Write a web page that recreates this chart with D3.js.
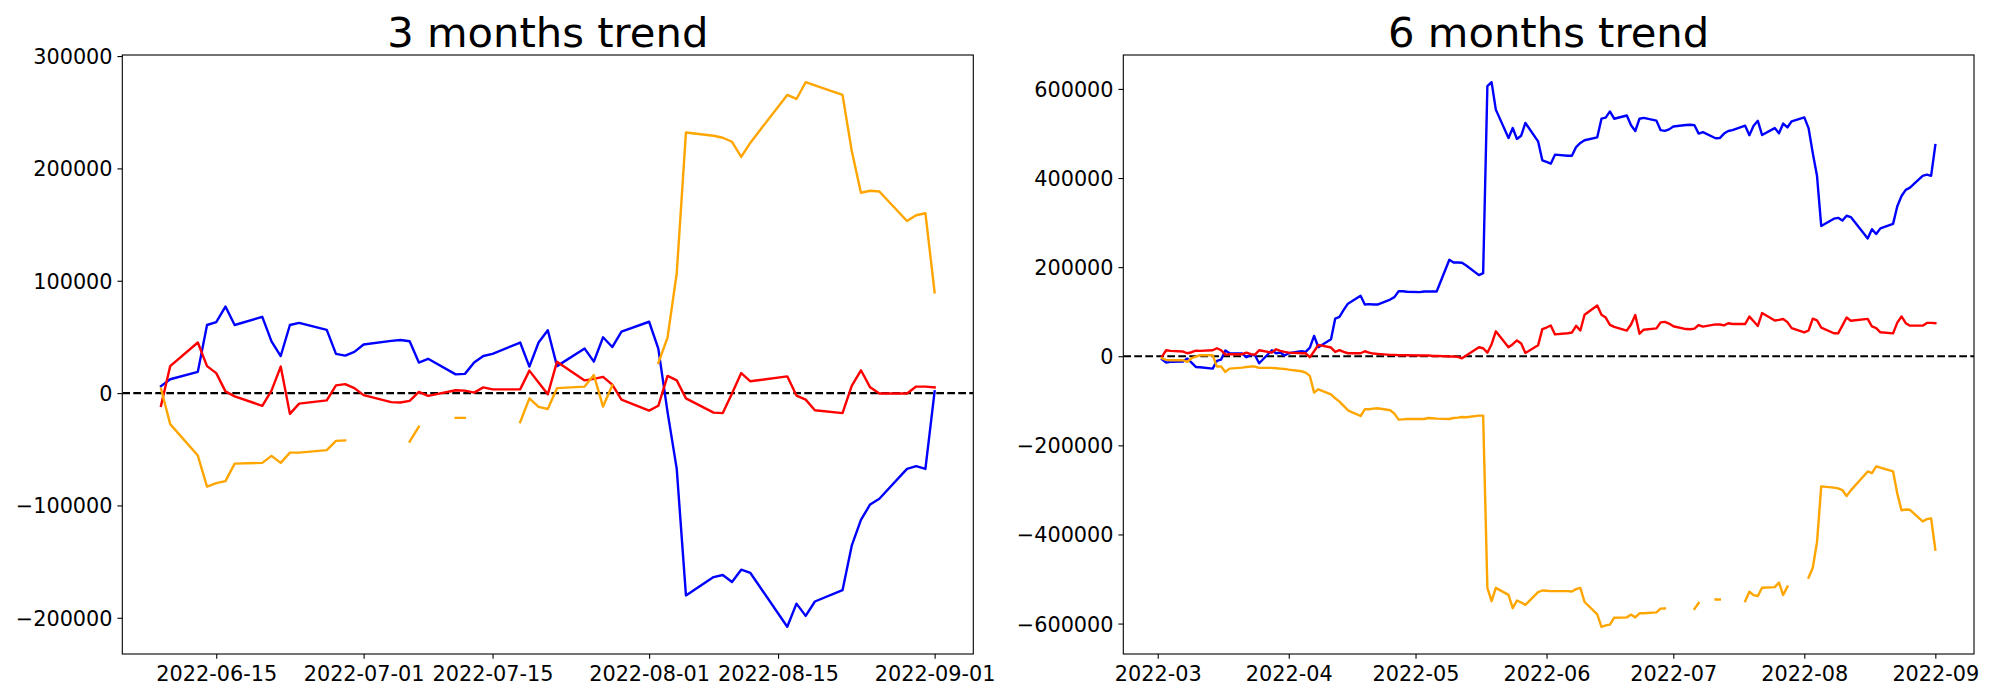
<!DOCTYPE html>
<html>
<head>
<meta charset="utf-8">
<script src="https://cdn.jsdelivr.net/npm/d3@7"></script>
<style>
  html, body { margin: 0; padding: 0; background: #ffffff; }
  svg { display: block; }
</style>
</head>
<body>
<svg id="chart" width="2000" height="700"></svg>
<script>
// ---------------- DATA ----------------
const titles = ["3 months trend", "6 months trend"];

// trading dates (2022) of the 3 months panel
const dates3m = ["06-09","06-10","06-13","06-14","06-15","06-16","06-17","06-20","06-21","06-22","06-23","06-24","06-27","06-28","06-29","06-30",
  "07-01","07-04","07-05","07-06","07-07","07-08","07-11","07-12","07-13","07-14","07-15","07-18","07-19","07-20","07-21","07-22","07-25","07-26","07-27","07-28","07-29",
  "08-01","08-02","08-03","08-04","08-05","08-08","08-09","08-10","08-11","08-12","08-16","08-17","08-18","08-19","08-22","08-23","08-24","08-25","08-26","08-29","08-30","08-31",
  "09-01"];

// earlier trading dates (2022) that only the 6 months panel shows
const datesEarly = ["03-02","03-03","03-04","03-07","03-08","03-09","03-10","03-11","03-14","03-15","03-16","03-17","03-18","03-21","03-22","03-23","03-24","03-25","03-28","03-29","03-30","03-31",
  "04-01","04-04","04-05","04-06","04-07","04-08","04-11","04-12","04-13","04-14","04-15","04-18","04-19","04-20","04-21","04-22","04-25","04-26","04-27","04-28","04-29",
  "05-02","05-03","05-04","05-05","05-06","05-09","05-10","05-11","05-12","05-13","05-16","05-17","05-18","05-19","05-20","05-23","05-24","05-25","05-26","05-27","05-30","05-31",
  "06-01","06-02","06-03","06-06","06-07","06-08"];

const blue3m = [6200,12300,18900,60600,63200,77000,60600,67900,46100,33000,60600,62500,56300,34900,33400,36700,
  43200,46500,47200,46100,27200,30500,16700,17100,27200,33000,34900,45000,23600,45000,55900,24000,39600,28000,49700,41000,54800,
  63500,39600,-16700,-67500,-180100,-163800,-161900,-168100,-157200,-160100,-208000,-187400,-198300,-185500,-175400,-135800,-112900,-99100,-94000,-67500,-65000,-67500,
  1500];

const red3m = [-11300,24000,45000,24000,17800,1500,-2900,-11300,2200,23600,-18500,-9400,-6500,6900,8000,4400,
  -1800,-8000,-8400,-6900,1100,-2500,2500,2200,400,5100,3300,3300,20000,9400,-1100,28000,11300,12700,14500,7600,-5800,
  -15600,-11300,15300,11300,-4700,-17400,-17800,-400,17800,10500,14900,-2200,-5800,-15300,-17800,6500,20300,5100,-400,-400,5800,5800,
  5100];

const orange3m = [4000,-27600,-55600,-83200,-80200,-78400,-62800,-62100,-55900,-62100,-53000,-53000,-50800,-42500,-42100,null,
  null,null,null,-43200,-29800,null,-22100,-22100,null,null,null,-25800,-4700,-12300,-14200,4400,5800,16000,-12000,6900,null,
  null,26900,49400,106700,232000,229100,227300,223700,210200,222900,265400,261800,276700,273800,265400,215700,178300,180100,179400,153200,158300,160100,
  89700];

const blue6m = [-6700,-14200,-12700,-12000,-5200,-14200,-24000,-24700,-27700,-10500,-7500,12700,6700,6000,-2200,3000,2200,-15700,13500,6700,8200,1500,
  6700,11200,9700,19500,45700,20200,38200,84600,88400,104000,118000,135600,116000,117000,116000,116000,127300,132600,146000,146000,144600,
  143800,145300,145300,145300,145300,216500,210500,210500,209700,203700,182000,186500,606000,615000,553500,489800,512300,487600,495000,523600,482400,439700,
  436000,432200,452400,450000,450000,469600,
  478700,484800,491400,533100,535700,549500,533100,540400,518600,505500,533100,535000,528800,507400,505900,509200,
  515700,519000,519700,518600,499700,503000,489200,489600,499700,505500,507400,517500,496100,517500,528400,496500,512100,500500,522200,513500,527300,
  536000,512100,455800,405000,292400,308700,310600,304400,315300,312400,264500,285100,274200,287000,297100,336700,359600,373400,378500,405000,407500,405000,
  474000];

const red6m = [-700,13500,12000,10500,6700,9000,12700,12000,13500,18000,13500,3700,4500,4500,8200,4500,3700,13500,8200,15700,12000,9700,
  8200,6700,6700,-2200,11200,25500,19500,9700,13500,9700,6700,6700,11200,8000,6000,5200,3000,3000,2200,2200,2200,
  1500,1500,1500,700,700,-700,-700,-1500,-4500,1500,20200,18000,8000,27000,56000,20000,27000,35500,28500,7300,24500,60800,
  64400,69000,49000,51700,53200,68200,
  57700,93000,114000,93000,86800,70500,66100,57700,71200,92600,50500,59600,62500,75900,77000,73400,
  67200,61000,60600,62100,70100,66500,71500,71200,69400,74100,72300,72300,89000,78400,67900,97000,80300,81700,83500,76600,63200,
  53400,57700,84300,80300,64300,51600,51200,68600,86800,79500,83900,66800,63200,53700,51200,75500,89300,74100,68600,68600,74800,74800,
  74100];

const orange6m = [-4500,-8200,-9000,-9000,-12700,-4500,-700,2200,2200,-23200,-23200,-35200,-27700,-25500,-24000,-23200,-23200,-26200,-26200,-27000,-27700,-28500,
  -30000,-33700,-36700,-44200,-81600,-74200,-85400,-94400,-101900,-111600,-121300,-134100,-119100,-119100,-117600,-116800,-121300,-128800,-142300,-141600,-140800,
  -140800,-140800,-138600,-139300,-140000,-140800,-138600,-137800,-136300,-137000,-133300,-133300,-519800,-549800,-519800,-535500,-565500,-548300,-552800,-558000,-529500,-525800,
  -526500,-527300,-527300,-527300,-528000,-522800,
  -520000,-551600,-579600,-607200,-604200,-602400,-586800,-586100,-579900,-586100,-577000,-577000,-574800,-566500,-566100,null,
  null,null,null,-567200,-553800,null,-546100,-546100,null,null,null,-549800,-528700,-536300,-538200,-519600,-518200,-508000,-536000,-517100,null,
  null,-497100,-474600,-417300,-292000,-294900,-296700,-300300,-313800,-301100,-258600,-262200,-247300,-250200,-258600,-308300,-345700,-343900,-344600,-370800,-365700,-363900,
  -434300];

const xTicks3m = ["2022-06-15","2022-07-01","2022-07-15","2022-08-01","2022-08-15","2022-09-01"];
const xTicks6m = ["2022-03","2022-04","2022-05","2022-06","2022-07","2022-08","2022-09"];
const yTicks3m = [-200000,-100000,0,100000,200000,300000];
const yTicks6m = [-600000,-400000,-200000,0,200000,400000,600000];

const seriesColors = ["blue","red","orange"];

// ---------------- DRAWING ----------------
const svg = d3.select("#chart");
svg.append("rect").attr("width",2000).attr("height",700).attr("fill","#ffffff");

const FONT = "'DejaVu Sans', 'Liberation Sans', sans-serif";
const parseDay = d3.utcParse("%Y-%m-%d");
const parseMonth = d3.utcParse("%Y-%m");

const panels = [
  { title: titles[0], dates: dates3m.map(s => parseDay("2022-" + s)), series: [blue3m, red3m, orange3m],
    xTicks: xTicks3m.map(parseDay), xFmt: d3.utcFormat("%Y-%m-%d"), yTicks: yTicks3m,
    left: 122.3, right: 973.3 },
  { title: titles[1], dates: datesEarly.concat(dates3m).map(s => parseDay("2022-" + s)), series: [blue6m, red6m, orange6m],
    xTicks: xTicks6m.map(parseMonth), xFmt: d3.utcFormat("%Y-%m"), yTicks: yTicks6m,
    left: 1123.3, right: 1974 }
];

const TOP = 55, BOTTOM = 654;
const TICK = 4.86, PAD = 4.86;
const fmtY = d3.format("d");

panels.forEach((p, i) => {
  const g = svg.append("g");
  // x scale with 5% margins (matplotlib autoscale)
  const [d0, d1] = d3.extent(p.dates);
  const span = d1 - d0;
  const x = d3.scaleUtc()
    .domain([new Date(+d0 - 0.05 * span), new Date(+d1 + 0.05 * span)])
    .range([p.left, p.right]);
  const allVals = p.series.flat().filter(v => v != null);
  const [v0, v1] = d3.extent(allVals);
  const vs = v1 - v0;
  const y = d3.scaleLinear()
    .domain([v0 - 0.05 * vs, v1 + 0.05 * vs])
    .range([BOTTOM, TOP]);

  const clipId = "clip" + i;
  g.append("clipPath").attr("id", clipId)
    .append("rect").attr("x", p.left).attr("y", TOP)
    .attr("width", p.right - p.left).attr("height", BOTTOM - TOP);

  const plot = g.append("g").attr("clip-path", `url(#${clipId})`);

  // zero reference line
  plot.append("line")
    .attr("x1", p.left).attr("x2", p.right)
    .attr("y1", y(0)).attr("y2", y(0))
    .attr("stroke", "#000").attr("stroke-width", 2.2)
    .attr("stroke-dasharray", "7.7,3.3");

  // series
  p.series.forEach((vals, k) => {
    const line = d3.line()
      .defined(d => d.v != null)
      .x(d => x(d.t))
      .y(d => y(d.v));
    const data = p.dates.map((t, j) => ({ t, v: vals[j] }));
    plot.append("path")
      .datum(data)
      .attr("d", line)
      .attr("fill", "none")
      .attr("stroke", seriesColors[k])
      .attr("stroke-width", 2.4)
      .attr("stroke-linejoin", "round")
      .attr("stroke-linecap", "square");
  });

  // x axis
  const xAxis = d3.axisBottom(x)
    .tickValues(p.xTicks)
    .tickFormat(p.xFmt)
    .tickSizeInner(TICK).tickSizeOuter(0).tickPadding(PAD);
  const gx = g.append("g").attr("transform", `translate(0,${BOTTOM})`).call(xAxis);
  gx.select(".domain").remove();
  gx.selectAll(".tick line").attr("stroke", "#000").attr("stroke-width", 1.1);
  gx.selectAll(".tick text")
    .attr("fill", "#000")
    .attr("y", 27).attr("dy", 0)
    .style("font-family", FONT).style("font-size", "20.8px");

  // y axis
  const yAxis = d3.axisLeft(y)
    .tickValues(p.yTicks)
    .tickFormat(fmtY)
    .tickSizeInner(TICK).tickSizeOuter(0).tickPadding(PAD);
  const gy = g.append("g").attr("transform", `translate(${p.left},0)`).call(yAxis);
  gy.select(".domain").remove();
  gy.selectAll(".tick line").attr("stroke", "#000").attr("stroke-width", 1.1);
  gy.selectAll(".tick text")
    .attr("fill", "#000")
    .attr("dy", "0.36em")
    .style("font-family", FONT).style("font-size", "20.8px");

  // frame
  g.append("rect")
    .attr("x", p.left).attr("y", TOP)
    .attr("width", p.right - p.left).attr("height", BOTTOM - TOP)
    .attr("fill", "none").attr("stroke", "#000").attr("stroke-width", 1.1);

  // title
  g.append("text")
    .attr("x", (p.left + p.right) / 2)
    .attr("y", TOP - 8.33)
    .attr("text-anchor", "middle")
    .attr("fill", "#000")
    .style("font-family", FONT).style("font-size", "41.7px")
    .text(p.title);
});
</script>
</body>
</html>
